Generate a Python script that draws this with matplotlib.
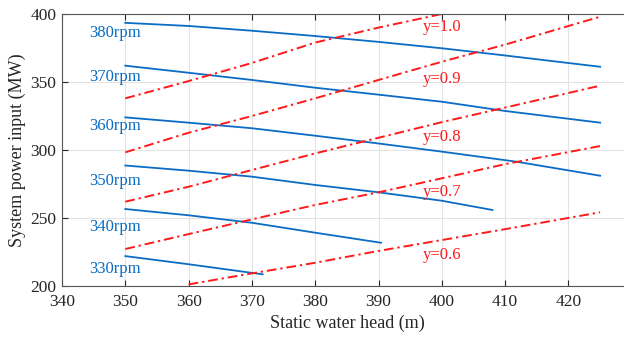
import numpy as np
import matplotlib
matplotlib.use("Agg")
import matplotlib.pyplot as plt

plt.rcParams['font.family'] = ['Liberation Serif', 'DejaVu Serif']

#%% data
# constant speed curves (blue)
rpm_labels = ["380rpm", "370rpm", "360rpm", "350rpm", "340rpm", "330rpm"]
rpm_label_y = [386, 353.5, 317.6, 277.4, 243.6, 212.3]

h_380 = [350, 360, 370, 380, 390, 400, 410, 425]
p_380 = [393.5, 391.2, 387.7, 383.8, 379.5, 374.8, 369.5, 361.2]
h_370 = [350, 360, 370, 380, 390, 400, 410, 425]
p_370 = [362.0, 356.8, 351.5, 345.8, 340.7, 335.5, 328.7, 320.1]
h_360 = [350, 360, 370, 380, 390, 400, 411.8, 425]
p_360 = [324.0, 320.1, 316.0, 310.5, 304.8, 298.8, 291.4, 281.1]
h_350 = [350, 360, 370, 380, 390, 400, 408]
p_350 = [288.6, 284.8, 280.4, 274.3, 268.9, 262.7, 255.9]
h_340 = [350, 360, 370, 380, 390.4]
p_340 = [256.6, 252.0, 246.5, 239.2, 231.8]
h_330 = [350, 360, 371.7]
p_330 = [222.0, 216.0, 208.6]

# efficiency curves (red)
eff_labels = ["y=1.0", "y=0.9", "y=0.8", "y=0.7", "y=0.6"]
eff_label_y = [390.7, 352.0, 309.3, 268.9, 222.8]

h_e10 = [350, 360, 370, 380, 390, 400]
p_e10 = [338.0, 350.7, 364.0, 379.0, 390.0, 400.0]
h_e09 = [350, 360, 370, 380, 390, 400, 410, 425]
p_e09 = [298.3, 312.7, 325.0, 338.0, 351.5, 364.9, 377.5, 398.0]
h_e08 = [350, 360, 370, 380, 390, 400, 410, 425]
p_e08 = [262.0, 273.0, 285.3, 297.5, 309.0, 320.5, 331.2, 347.3]
h_e07 = [350, 360, 370, 380, 390, 400, 410, 425]
p_e07 = [227.2, 238.2, 249.0, 259.6, 268.9, 279.2, 289.6, 302.9]
h_e06 = [360, 370, 380, 390, 400, 410, 425]
p_e06 = [201.2, 209.3, 217.1, 225.8, 233.8, 241.8, 254.2]

#%%
blue = "#0a6cc4"
red = "#ff1a1a"
ax_col = "#262626"

fig = plt.figure(figsize=(6.24, 3.39), dpi=100)
# right side of the axes is cut off in the original
ax = fig.add_axes([0.0994, 0.1563, 0.913, 0.8024])

for h, p in [(h_380, p_380), (h_370, p_370), (h_360, p_360),
             (h_350, p_350), (h_340, p_340), (h_330, p_330)]:
    ax.plot(h, p, color=blue, lw=1.3)

for h, p in [(h_e10, p_e10), (h_e09, p_e09), (h_e08, p_e08),
             (h_e07, p_e07), (h_e06, p_e06)]:
    ax.plot(h, p, color=red, lw=1.4, linestyle=(0, (5, 2, 1.2, 2)))

for lab, yv in zip(rpm_labels, rpm_label_y):
    ax.text(348.3, yv, lab, color=blue, fontsize=12, ha="center", va="center")

for lab, yv in zip(eff_labels, eff_label_y):
    ax.text(400.1, yv, lab, color=red, fontsize=12, ha="center", va="center")

ax.set_xlim(340, 430)
ax.set_ylim(200, 400)
ax.set_xticks(np.arange(340, 430, 10))
ax.set_yticks(np.arange(200, 401, 50))
ax.grid(True, color="#e3e3e3", lw=0.8)
ax.set_axisbelow(True)
ax.tick_params(direction="in", top=True, right=True, length=4,
               labelsize=12.5, colors=ax_col)
ax.tick_params(axis="x", pad=6)
ax.tick_params(axis="y", pad=4)
for s in ax.spines.values():
    s.set_color("#555555")
    s.set_linewidth(0.8)

ax.set_xlabel("Static water head (m)", fontsize=13, color=ax_col, labelpad=3)
ax.set_ylabel("System power input (MW)", fontsize=13, color=ax_col, labelpad=3)

plt.savefig("out.png", dpi=100)
